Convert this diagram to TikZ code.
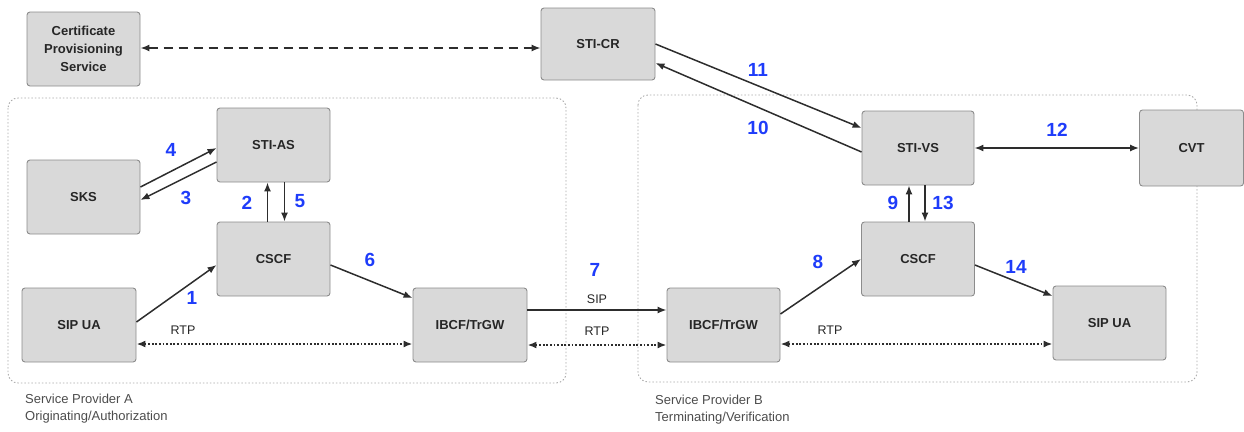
\documentclass[tikz,border=0pt]{standalone}
\usepackage{fontspec}
\setmainfont{Liberation Sans}
\usetikzlibrary{arrows.meta}
\definecolor{boxfill}{RGB}{217,217,217}
\definecolor{boxline}{RGB}{140,140,140}
\definecolor{numblue}{RGB}{30,60,250}
\definecolor{linecol}{RGB}{45,45,45}
\definecolor{grpline}{RGB}{170,170,170}
\tikzset{
  box/.style={draw=boxline, fill=boxfill, rounded corners=3pt, line width=0.9pt,
    minimum width=113pt, minimum height=74pt, inner sep=0pt, align=center,
    font=\fontsize{13}{18}\selectfont\bfseries, text=black!85},
  arr/.style={draw=linecol, line width=1.5pt, -{Latex[length=9pt,width=7pt]}},
  barr/.style={draw=linecol, line width=1.5pt, {Latex[length=9pt,width=7pt]}-{Latex[length=9pt,width=7pt]}},
  rtp/.style={draw=linecol, line width=1.8pt, dash pattern=on 1.8pt off 1.8pt, {Latex[length=9pt,width=7pt]}-{Latex[length=9pt,width=7pt]}},
  num/.style={text=numblue, font=\fontsize{19}{19}\selectfont\bfseries, inner sep=0pt},
  lbl/.style={text=black!85, font=\fontsize{12.5}{12.5}\selectfont, inner sep=0pt},
  grp/.style={draw=grpline, line width=0.9pt, dash pattern=on 1.5pt off 2pt, rounded corners=10pt},
  grplbl/.style={text=black!70, font=\fontsize{13}{17}\selectfont, align=left, inner sep=0pt, anchor=north west}
}
\begin{document}
\begin{tikzpicture}[x=1pt,y=-1pt]
\useasboundingbox (0,0) rectangle (1244,431);
% groups
\draw[grp] (8,98) rectangle (566,383);
\draw[grp] (638,95) rectangle (1197,382);
\node[grplbl] (gA) at (25,394) {Service Provider A\\Originating/Authorization};
\node[grplbl] (gB) at (655,395) {Service Provider B\\Terminating/Verification};
% boxes
\node[box] (cps) at (83.5,49) {Certificate\\Provisioning\\Service};
\node[box, minimum width=114pt, minimum height=72pt] (cr) at (598,44) {STI-CR};
\node[box] (as) at (273.5,145) {STI-AS};
\node[box] (sks) at (83.5,197) {SKS};
\node[box] (cscfA) at (273.5,259) {CSCF};
\node[box, minimum width=114pt] (uaA) at (79,325) {SIP UA};
\node[box, minimum width=114pt] (ibA) at (470,325) {IBCF/TrGW};
\node[box] (ibB) at (723.5,325) {IBCF/TrGW};
\node[box] (cscfB) at (918,259) {CSCF};
\node[box, minimum width=112pt] (vs) at (918,148) {STI-VS};
\node[box, minimum width=104pt, minimum height=76pt] (cvt) at (1191.5,148) {CVT};
\node[box] (uaB) at (1109.5,323) {SIP UA};
% connectors
\draw[draw=linecol, line width=1.5pt, dash pattern=on 9pt off 6pt, {Latex[length=9pt,width=7pt]}-{Latex[length=9pt,width=7pt]}] ([yshift=1pt]cps.east) -- ([yshift=-4pt]cr.west);
\draw[arr] (cr.east) -- ([yshift=20pt]vs.west);
\draw[arr] ([yshift=-4pt]vs.west) -- ([yshift=-19pt]cr.east);
\draw[barr] (vs.east) -- (cvt.west);
\draw[arr] ([xshift=-9pt]cscfB.north) -- ([xshift=-9pt]vs.south);
\draw[arr] ([xshift=7pt]vs.south) -- ([xshift=7pt]cscfB.north);
\draw[arr] ([yshift=11pt]ibB.east) -- (cscfB.west);
\draw[arr] ([yshift=-6pt]cscfB.east) -- ([yshift=27pt]uaB.west);
\draw[rtp] ([yshift=-19pt]ibB.east) -- ([yshift=-21pt]uaB.west);
\draw[arr] ([yshift=15pt]ibA.east) -- ([yshift=15pt]ibB.west);
\draw[rtp] ([yshift=-20pt]ibA.east) -- ([yshift=-20pt]ibB.west);
\draw[rtp] ([yshift=-19pt]uaA.east) -- ([yshift=-19pt]ibA.west);
\draw[arr] ([yshift=3pt]uaA.east) -- ([yshift=-6pt]cscfA.west);
\draw[arr] ([yshift=-6pt]cscfA.east) -- ([yshift=27pt]ibA.west);
\draw[arr] ([xshift=-6pt]cscfA.north) -- ([xshift=-6pt]as.south);
\draw[arr] ([xshift=11pt]as.south) -- ([xshift=11pt]cscfA.north);
\draw[arr] ([yshift=10pt]sks.east) -- ([yshift=-3pt]as.west);
\draw[arr] ([yshift=-17pt]as.west) -- ([yshift=-3pt]sks.east);
% numbers
\node[num] (n1) at (192,298) {1};
\node[num] (n2) at (247,203) {2};
\node[num] (n3) at (186,198) {3};
\node[num] (n4) at (171,150) {4};
\node[num] (n5) at (300,201) {5};
\node[num] (n6) at (370,260) {6};
\node[num] (n7) at (595,270) {7};
\node[num] (n8) at (818,262) {8};
\node[num] (n9) at (893,203) {9};
\node[num] (n10) at (758,128) {10};
\node[num] (n11) at (758,70) {11};
\node[num] (n12) at (1057,130) {12};
\node[num] (n13) at (943,203) {13};
\node[num] (n14) at (1016,267) {14};
% labels
\node[lbl] (sip) at (597,299) {SIP};
\node[lbl] (rtpM) at (597,331) {RTP};
\node[lbl] (rtpA) at (183,330) {RTP};
\node[lbl] (rtpB) at (830,330) {RTP};
\end{tikzpicture}
\end{document}
